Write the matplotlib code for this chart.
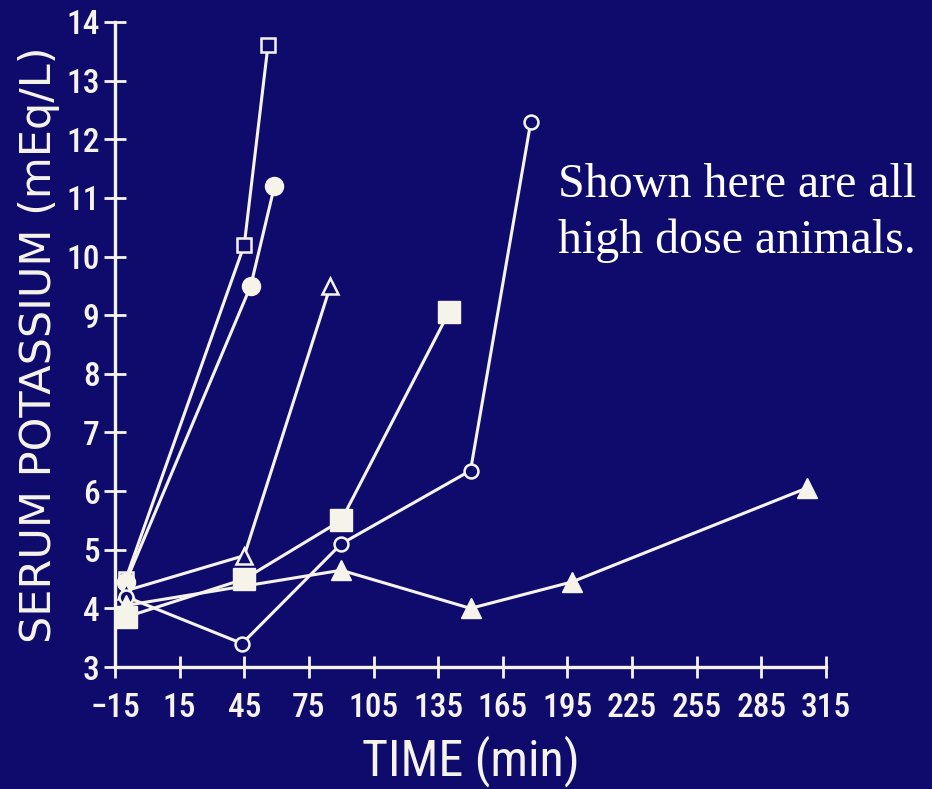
import numpy as np
import matplotlib.pyplot as plt

# serum potassium over time, one series per animal
t_open_sq = [-10, 45, 56]
k_open_sq = [4.5, 10.2, 13.6]

t_fill_ci = [-10, 48, 59]
k_fill_ci = [4.45, 9.5, 11.2]

t_open_tri = [-10, 45, 85]
k_open_tri = [4.3, 4.9, 9.5]

t_fill_sq = [-10, 45, 90, 140]
k_fill_sq = [3.85, 4.5, 5.5, 9.05]

t_open_ci = [-10, 44, 90, 150, 178]
k_open_ci = [4.2, 3.4, 5.1, 6.35, 12.3]

t_fill_tri = [-10, 90, 150, 197, 306]
k_fill_tri = [4.05, 4.65, 4.0, 4.45, 6.05]

xticks = list(range(-15, 316, 30))
yticks = list(range(3, 15))

bg = '#0e0b6c'
fg = '#f6f4ea'
cond = 'Roboto Condensed'

fig = plt.figure(figsize=(9.32, 7.89), dpi=100, facecolor=bg)
ax = fig.add_axes([115/932, 1-667/789, (826-115)/932, (667-22)/789], facecolor=bg)

lw = 2.2
ax.plot(t_open_sq, k_open_sq, color=fg, lw=lw, marker='s', ms=10, mfc=bg, mec=fg, mew=1.8, zorder=3)
ax.plot(t_fill_ci, k_fill_ci, color=fg, lw=lw, marker='o', ms=13, mfc=fg, mec=fg, zorder=3)
ax.plot(t_open_tri, k_open_tri, color=fg, lw=lw, marker='^', ms=11, mfc=bg, mec=fg, mew=1.8, zorder=3)
ax.plot(t_fill_sq, k_fill_sq, color=fg, lw=lw, marker='s', ms=16, mfc=fg, mec=fg, zorder=3)
ax.plot(t_open_ci, k_open_ci, color=fg, lw=lw, marker='o', ms=10, mfc=bg, mec=fg, mew=1.8, zorder=3)
ax.plot(t_fill_tri, k_fill_tri, color=fg, lw=lw, marker='^', ms=14, mfc=fg, mec=fg, zorder=3)

ax.set_xlim(-15, 315)
ax.set_ylim(3, 14)
ax.set_xticks(xticks)
ax.set_yticks(yticks)
ax.set_xticklabels([str(v).replace('-', '\u2212') for v in xticks])

for side in ['top', 'right']:
    ax.spines[side].set_visible(False)
for side in ['left', 'bottom']:
    ax.spines[side].set_color(fg)
    ax.spines[side].set_linewidth(2.4)

ax.tick_params(direction='inout', length=16, width=2, color=fg, labelcolor=fg,
               labelsize=24)
ax.tick_params(axis='x', pad=10)
ax.tick_params(axis='y', pad=3)
for lab in ax.get_xticklabels() + ax.get_yticklabels():
    lab.set_family(cond)
    lab.set_fontweight('medium')

ax.set_xlabel('TIME (min)', color=fg, fontsize=36, family=cond, labelpad=8)
ax.set_ylabel('SERUM POTASSIUM (mEq/L)', color=fg, fontsize=31, family='DejaVu Sans')
ax.yaxis.set_label_coords(-0.078, 0.5)

fig.text(558/932, 1-197/789, 'Shown here are all', color='white',
         fontsize=34.5, family='Liberation Serif', va='baseline', ha='left')
fig.text(558/932, 1-253/789, 'high dose animals.', color='white',
         fontsize=34.5, family='Liberation Serif', va='baseline', ha='left')

fig.savefig('out.png', dpi=100, facecolor=bg)
